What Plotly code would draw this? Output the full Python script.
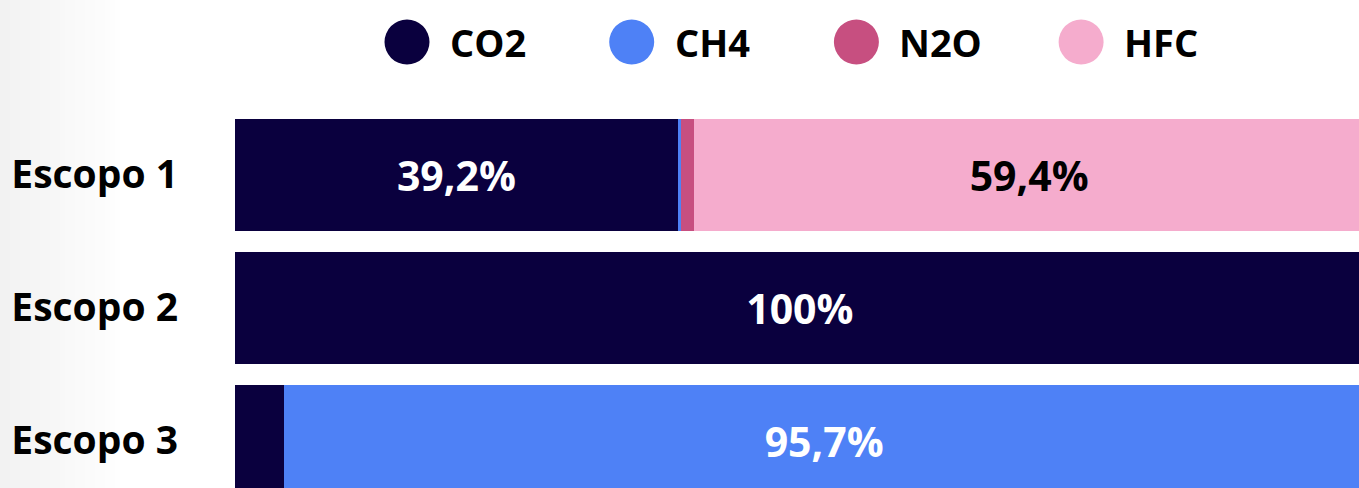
import plotly.graph_objects as go

categories = ["Escopo 1", "Escopo 2", "Escopo 3"]
gases = ["CO2", "CH4", "N2O", "HFC"]
co2 = [39.2, 100.0, 4.3]
ch4 = [0.3, 0.0, 95.7]
n2o = [1.1, 0.0, 0.0]
hfc = [59.4, 0.0, 0.0]

colors = {"CO2": "#0a003e", "CH4": "#4e81f6", "N2O": "#c74f80", "HFC": "#f5accd"}
label_colors = {"CO2": "white", "CH4": "white", "N2O": "white", "HFC": "black"}
series = {"CO2": co2, "CH4": ch4, "N2O": n2o, "HFC": hfc}

FONT = "Open Sans"
W, H = 1359, 488
ML = 235


def fmt(v):
    if v >= 99.95:
        return "100%"
    return f"{v:.1f}".replace(".", ",") + "%"


fig = go.Figure()
for g in gases:
    vals = series[g]
    texts = [fmt(v) if v >= 10 else "" for v in vals]
    fig.add_trace(go.Bar(
        y=categories, x=vals, name=g, orientation="h",
        marker=dict(color=colors[g], line=dict(width=0)),
        text=texts, textposition="inside", insidetextanchor="middle",
        textangle=0,
        insidetextfont=dict(family=FONT, size=41, color=label_colors[g], weight="bold"),
        hoverinfo="skip", showlegend=False,
    ))

shapes = []
# left background gradient
steps = 24
for i in range(steps):
    px0 = i * 5
    px1 = px0 + 5
    c = int(242 + (255 - 242) * i / steps)
    shapes.append(dict(type="rect", xref="paper", yref="paper",
                       x0=(px0 - ML) / (W - ML), x1=(px1 - ML) / (W - ML),
                       y0=0, y1=1, fillcolor=f"rgb({c},{c},{c})",
                       line=dict(width=0), layer="below"))

# custom legend
annotations = []
leg_y = 1 - 42 / H
start_px = 407
spacing = 224.7
for i, g in enumerate(gases):
    cx = (start_px + i * spacing - ML) / (W - ML)
    shapes.append(dict(type="circle", xref="paper", yref="paper",
                       xsizemode="pixel", ysizemode="pixel",
                       xanchor=cx, yanchor=leg_y,
                       x0=-22.5, x1=22.5, y0=-22.5, y1=22.5,
                       fillcolor=colors[g], line=dict(width=0)))
    annotations.append(dict(xref="paper", yref="paper", x=cx, y=leg_y,
                            xanchor="left", yanchor="middle", xshift=41,
                            text=g, showarrow=False,
                            font=dict(family=FONT, size=38, color="black", weight="bold")))

fig.update_layout(
    width=W, height=H,
    margin=dict(l=ML, r=0, t=0, b=0),
    paper_bgcolor="white", plot_bgcolor="white",
    barmode="stack", bargap=0.154,
    shapes=shapes, annotations=annotations,
    xaxis=dict(range=[0, 99.5], visible=False, fixedrange=True),
    yaxis=dict(type="category", categoryorder="array", categoryarray=categories,
               range=[2.355, -1.314], showgrid=False, zeroline=False, showline=False,
               ticks="", ticklabelstandoff=56, fixedrange=True,
               tickfont=dict(family=FONT, size=39, color="black", weight="bold")),
    uniformtext=dict(mode=False),
)

fig.write_html("out.html", config={"displayModeBar": False},
               post_script="document.body.style.margin='0px';document.body.style.overflow='hidden';")
